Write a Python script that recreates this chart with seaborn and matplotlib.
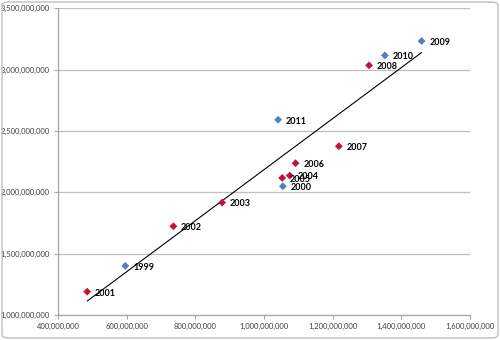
import matplotlib
matplotlib.use("Agg")
import matplotlib.pyplot as plt
import seaborn as sns
import pandas as pd
from matplotlib.patches import FancyBboxPatch
from matplotlib.ticker import FuncFormatter, FixedLocator

years = ["1999", "2000", "2001", "2002", "2003", "2004", "2005", "2006",
         "2007", "2008", "2009", "2010", "2011"]
x_vals = [596e6, 1055e6, 485e6, 736e6, 878e6, 1075e6, 1053e6, 1092e6,
          1218e6, 1306e6, 1459e6, 1352e6, 1041e6]
y_vals = [1400e6, 2049e6, 1190e6, 1723e6, 1916e6, 2136e6, 2117e6, 2237e6,
          2375e6, 3034e6, 3232e6, 3115e6, 2591e6]
series = ["A", "A", "B", "B", "B", "B", "B", "B", "B", "B", "A", "A", "A"]
x_ticks = [400e6, 600e6, 800e6, 1000e6, 1200e6, 1400e6, 1600e6]
y_ticks = [1000e6, 1500e6, 2000e6, 2500e6, 3000e6, 3500e6]

df = pd.DataFrame({"x": x_vals, "y": y_vals, "year": years, "s": series})

sns.set_theme(style="white")
plt.rcParams["font.family"] = ["Lato", "DejaVu Sans"]

fig = plt.figure(figsize=(5.0, 3.4), dpi=100)
ax = fig.add_axes([0.116, 0.0735, 0.824, 0.9025])

sns.regplot(data=df, x="x", y="y", scatter=False, ci=None, truncate=True,
            line_kws={"color": "#000000", "lw": 0.8}, ax=ax)
sns.scatterplot(data=df, x="x", y="y", hue="s", style="s",
                palette={"A": "#4F81BD", "B": "#C0143C"},
                markers={"A": "D", "B": "D"}, s=16, edgecolor="none",
                legend=False, ax=ax, zorder=3)

for xv, yv, t in zip(x_vals, y_vals, years):
    ax.annotate(t, (xv, yv), xytext=(5.5, -1), textcoords="offset points",
                ha="left", va="center", fontsize=6.5, fontweight="bold",
                color="#000000")

ax.set_xlim(400e6, 1600e6)
ax.set_ylim(1000e6, 3500e6)
ax.xaxis.set_major_locator(FixedLocator(x_ticks))
ax.yaxis.set_major_locator(FixedLocator(y_ticks))
fmt = FuncFormatter(lambda v, p: f"{int(round(v)):,}")
ax.xaxis.set_major_formatter(fmt)
ax.yaxis.set_major_formatter(fmt)
ax.set_xlabel("")
ax.set_ylabel("")
ax.yaxis.grid(True, color="#BFBFBF", lw=0.9)
ax.xaxis.grid(False)
ax.set_axisbelow(True)
for sp in ["top", "right"]:
    ax.spines[sp].set_visible(False)
for sp in ["left", "bottom"]:
    ax.spines[sp].set_color("#A6A6A6")
    ax.spines[sp].set_linewidth(0.9)
ax.tick_params(axis="both", which="major", length=3, width=0.8,
               color="#A6A6A6", labelsize=5.5, labelcolor="#404040",
               direction="out", bottom=True, left=True, pad=3)

border = FancyBboxPatch((0.004, 0.006), 0.992, 0.988,
                        boxstyle="round,pad=0,rounding_size=0.012",
                        transform=fig.transFigure, fill=False,
                        edgecolor="#BFBFBF", lw=1.0)
fig.patches.append(border)

fig.savefig("out.png", dpi=100)
